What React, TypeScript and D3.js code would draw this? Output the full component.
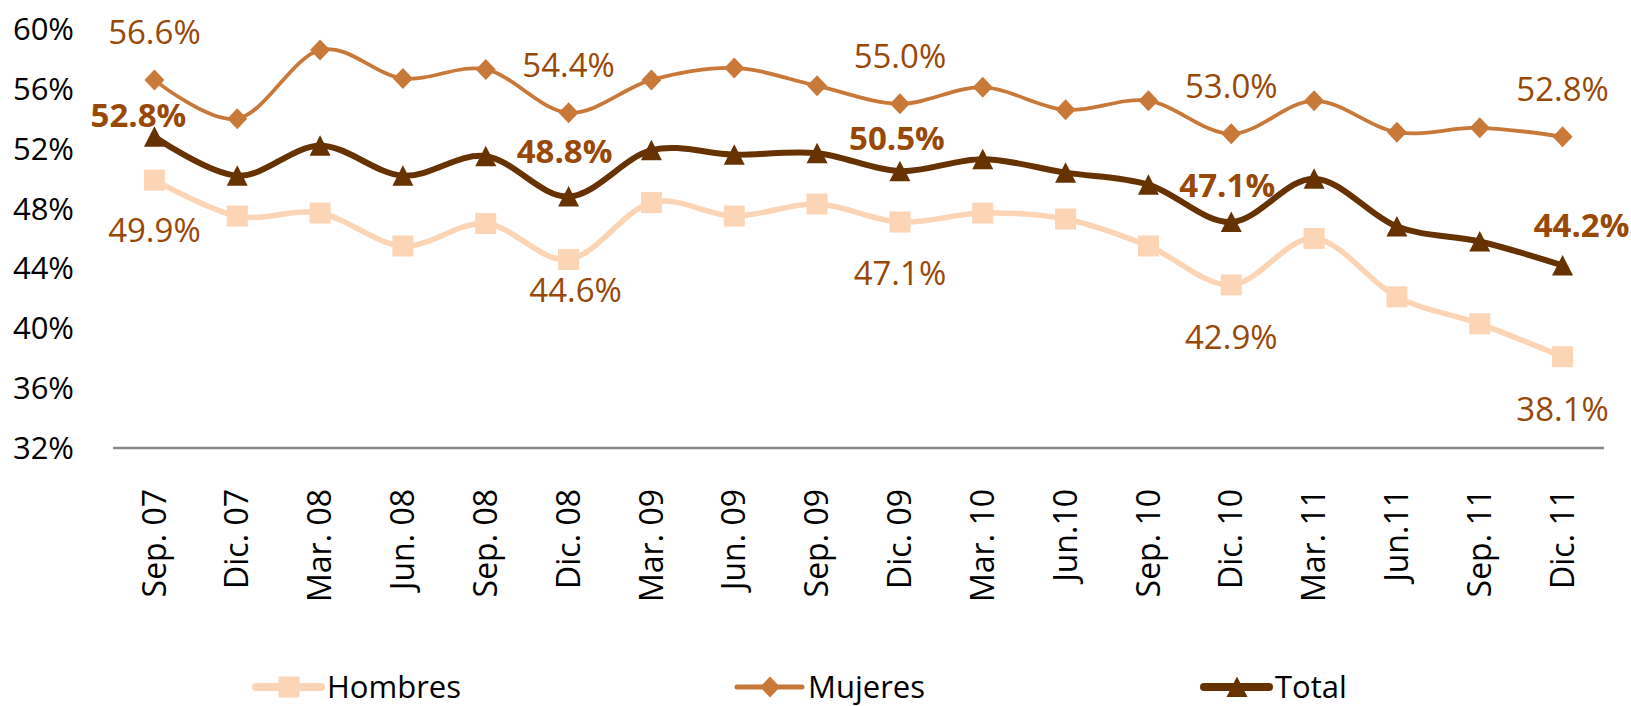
import React from "react";
import * as d3 from "d3";

// ── Data ─────────────────────────────────────────────────────────────────────
const categories = [
  "Sep. 07", "Dic. 07", "Mar. 08", "Jun. 08", "Sep. 08", "Dic. 08",
  "Mar. 09", "Jun. 09", "Sep. 09", "Dic. 09", "Mar. 10", "Jun.10",
  "Sep. 10", "Dic. 10", "Mar. 11", "Jun.11", "Sep. 11", "Dic. 11",
];

const hombres = [
  49.9, 47.5, 47.7, 45.5, 47.0, 44.6, 48.4, 47.5, 48.3,
  47.1, 47.7, 47.3, 45.5, 42.9, 46.0, 42.1, 40.3, 38.1,
];

const mujeres = [
  56.6, 54.0, 58.6, 56.7, 57.3, 54.4, 56.6, 57.4, 56.2,
  55.0, 56.1, 54.6, 55.2, 53.0, 55.2, 53.1, 53.4, 52.8,
];

const total = [
  52.8, 50.2, 52.2, 50.2, 51.5, 48.8, 51.9, 51.6, 51.7,
  50.5, 51.3, 50.4, 49.6, 47.1, 50.0, 46.8, 45.8, 44.2,
];

const yTicks = [32, 36, 40, 44, 48, 52, 56, 60];

// ── Layout / style ───────────────────────────────────────────────────────────
const W = 1631;
const H = 706;
const X0 = 113;
const X1 = 1604;
const Y_TOP = 29;
const Y_BOT = 448;

const C_HOMBRES = "#FBD5B5";
const C_MUJERES = "#C8793A";
const C_TOTAL = "#663300";
const C_LABEL = "#984807";

const AXIS_FONT = "'Open Sans', 'DejaVu Sans', sans-serif";
const LABEL_FONT = "'Liberation Sans Narrow', 'Arial Narrow', 'Open Sans', sans-serif";
const LABEL_SIZE = 33;

type Key = "hombres" | "mujeres" | "total";

const series: { key: Key; name: string; values: number[]; color: string; width: number }[] = [
  { key: "hombres", name: "Hombres", values: hombres, color: C_HOMBRES, width: 5.5 },
  { key: "mujeres", name: "Mujeres", values: mujeres, color: C_MUJERES, width: 3.75 },
  { key: "total", name: "Total", values: total, color: C_TOTAL, width: 6 },
];

// which points carry a data label, and where the label centre sits vs. the point
const labelSpots: { key: Key; i: number; dx: number; dy: number }[] = [
  { key: "mujeres", i: 0, dx: 0, dy: -48 },
  { key: "mujeres", i: 5, dx: 0, dy: -48 },
  { key: "mujeres", i: 9, dx: 0, dy: -48 },
  { key: "mujeres", i: 13, dx: 0, dy: -48 },
  { key: "mujeres", i: 17, dx: 0, dy: -48 },
  { key: "total", i: 0, dx: -16, dy: -22 },
  { key: "total", i: 5, dx: -4, dy: -45 },
  { key: "total", i: 9, dx: -3, dy: -33 },
  { key: "total", i: 13, dx: -4, dy: -37 },
  { key: "total", i: 17, dx: 19, dy: -40 },
  { key: "hombres", i: 0, dx: 0, dy: 50 },
  { key: "hombres", i: 5, dx: 7, dy: 31 },
  { key: "hombres", i: 9, dx: 0, dy: 51 },
  { key: "hombres", i: 13, dx: 0, dy: 52 },
  { key: "hombres", i: 17, dx: 0, dy: 52 },
];

const legendItems: { key: Key; x: number }[] = [
  { key: "hombres", x: 256 },
  { key: "mujeres", x: 737 },
  { key: "total", x: 1204 },
];

// ── Markers ──────────────────────────────────────────────────────────────────
function Marker({ k, x, y, color }: { k: Key; x: number; y: number; color: string }) {
  if (k === "hombres") {
    return <rect x={x - 10.5} y={y - 10.5} width={21} height={21} fill={color} />;
  }
  if (k === "mujeres") {
    return (
      <path
        d={`M${x},${y - 10.5} L${x + 10},${y} L${x},${y + 10.5} L${x - 10},${y} Z`}
        fill={color}
      />
    );
  }
  return (
    <path
      d={`M${x},${y - 10.5} L${x + 10.5},${y + 10} L${x - 10.5},${y + 10} Z`}
      fill={color}
    />
  );
}

export default function App() {
  const x = d3.scaleBand<string>().domain(categories).range([X0, X1]);
  const cx = (c: string) => (x(c) ?? 0) + x.bandwidth() / 2;
  const y = d3.scaleLinear().domain([32, 60]).range([Y_BOT, Y_TOP]);

  const line = d3
    .line<number>()
    .x((_, i) => cx(categories[i]))
    .y((v) => y(v))
    .curve(d3.curveCardinal.tension(0));

  const byKey = Object.fromEntries(series.map((s) => [s.key, s]));

  return (
    <svg
      width={W}
      height={H}
      style={{ position: "absolute", left: 0, top: 0, background: "#ffffff" }}
    >
      {/* y tick labels */}
      {yTicks.map((t) => (
        <text
          key={t}
          x={74}
          y={y(t) + 11}
          textAnchor="end"
          fontFamily={AXIS_FONT}
          fontSize={31}
          fill="#000"
        >
          {t}%
        </text>
      ))}

      {/* x axis */}
      <line x1={X0} x2={X1} y1={Y_BOT} y2={Y_BOT} stroke="#888888" strokeWidth={2.5} />
      {categories.map((c) => (
        <text
          key={c}
          transform={`translate(${cx(c)},489) rotate(-90)`}
          textAnchor="end"
          dy="0.35em"
          fontFamily={AXIS_FONT}
          fontSize={32}
          fill="#000"
        >
          {c}
        </text>
      ))}

      {/* series lines + markers */}
      {series.map((s) => (
        <g key={s.key}>
          <path
            d={line(s.values) ?? ""}
            fill="none"
            stroke={s.color}
            strokeWidth={s.width}
            strokeLinejoin="round"
            strokeLinecap="round"
          />
          {s.values.map((v, i) => (
            <Marker key={i} k={s.key} x={cx(categories[i])} y={y(v)} color={s.color} />
          ))}
        </g>
      ))}

      {/* data labels */}
      {labelSpots.map((l) => {
        const s = byKey[l.key];
        const v = s.values[l.i];
        return (
          <text
            key={`${l.key}-${l.i}`}
            x={cx(categories[l.i]) + l.dx}
            y={y(v) + l.dy + LABEL_SIZE * 0.36}
            textAnchor="middle"
            fontFamily={LABEL_FONT}
            fontSize={LABEL_SIZE}
            fontWeight={l.key === "total" ? 700 : 400}
            fill={C_LABEL}
          >
            {v.toFixed(1)}%
          </text>
        );
      })}

      {/* legend */}
      {legendItems.map((it) => {
        const s = byKey[it.key];
        const ly = 687;
        return (
          <g key={it.key}>
            <line
              x1={it.x}
              x2={it.x + 65}
              y1={ly}
              y2={ly}
              stroke={s.color}
              strokeWidth={it.key === "mujeres" ? 5 : 8}
              strokeLinecap="round"
            />
            <Marker k={it.key} x={it.x + 33} y={ly} color={s.color} />
            <text
              x={it.x + 71}
              y={698}
              fontFamily={AXIS_FONT}
              fontSize={31}
              fill="#000"
            >
              {s.name}
            </text>
          </g>
        );
      })}
    </svg>
  );
}
